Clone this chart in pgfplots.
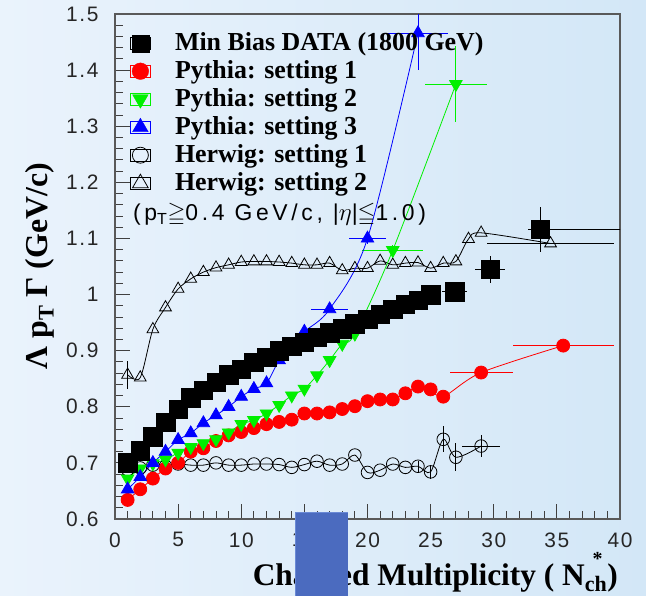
\documentclass[border=0pt]{standalone}
\usepackage{amssymb}
\usepackage{fontspec}
\setmainfont{Liberation Serif}
\newfontfamily\rootsans[LetterSpace=8]{Liberation Sans}
\newfontfamily\annfont[LetterSpace=16]{Liberation Sans}
\usepackage{pgfplots}
\pgfplotsset{compat=1.18}
\definecolor{bgleft}{HTML}{EAF3FC}
\definecolor{bgright}{HTML}{D3E7F7}
\definecolor{pyred}{HTML}{FF0000}
\definecolor{pygreen}{HTML}{00F000}
\definecolor{pyblue}{HTML}{0000FF}
\definecolor{slideblue}{HTML}{4B6BBF}
\definecolor{slideedge}{HTML}{6A8AD6}

\begin{document}
\begin{tikzpicture}
\useasboundingbox (-115bp,-77bp) rectangle (531bp,519bp);
\shade[left color=bgleft, right color=bgright] (-115bp,-77bp) rectangle (531bp,519bp);
\begin{axis}[
 at={(0,0)}, anchor=south west,
 scale only axis, width=505bp, height=505bp,
 xmin=0, xmax=40, ymin=0.6, ymax=1.5,
 xtick={0,5,...,40},
 ytick={0.6,0.7,0.8,0.9,1,1.1,1.2,1.3,1.4,1.5},
 minor x tick num=4, minor y tick num=4,
 tick align=inside, xtick pos=bottom, ytick pos=left,
 major tick length=15bp, minor tick length=7.5bp,
 axis line style={black!65, line width=1.2bp},
 every tick/.style={black!75, line width=1bp},
 tick label style={font=\rootsans\fontsize{21}{21}\selectfont, text=black!85},
 /pgf/number format/assume math mode=true,
 yticklabel style={/pgf/number format/fixed, /pgf/number format/precision=1, xshift=-13bp},
 xticklabel style={yshift=-10bp},
 legend style={draw=none, fill=none, inner sep=0pt,
   at={(axis description cs:0.0297,0.9703)}, anchor=north west,
   font=\bfseries\fontsize{26}{26}\selectfont,
   nodes={inner sep=1.5bp, text height=20bp, text depth=5bp},
   row sep=0pt, column sep=23bp},
 legend cell align=left,
 legend image code/.code={\path (-10bp,-6bp) rectangle (10bp,6bp);
   \draw[#1] plot coordinates {(0bp,0bp)};},
 error bars/error mark=none,
]
% Herwig setting 2
\addplot[black, line width=0.8bp, smooth, mark=triangle, mark size=6.8bp,
  mark options={solid, line width=0.8bp}, forget plot,
  error bars/.cd, x dir=both, x explicit, y dir=both, y explicit,
  error bar style={black, line width=0.8bp}]
 coordinates {(1,0.857) +- (0,0.025) (2,0.852) (3,0.938) (4,0.977) (5,1.010)
  (6,1.028) (7,1.040) (8,1.048) (9,1.053) (10,1.058) (11,1.059) (12,1.059)
  (13,1.058) (14,1.056) (15,1.053) (16,1.053) (17,1.056) (18,1.043) (19,1.047)
  (20,1.047) (21,1.060) (22,1.053) (23,1.056) (24,1.057) (25,1.047) (26,1.056)
  (27,1.059) (28,1.099) (29,1.110) (34.5,1.091) +- (5,0)};
% Herwig setting 1
\addplot[black, line width=0.8bp, smooth, mark=o, mark size=6.3bp,
  mark options={solid, line width=0.8bp}, forget plot,
  error bars/.cd, x dir=both, x explicit, y dir=both, y explicit,
  error bar style={black, line width=0.8bp}]
 coordinates {(1,0.688) (2,0.691) (3,0.696) (4,0.694) (5,0.698) (6,0.696)
  (7,0.696) (8,0.700) (9,0.696) (10,0.696) (11,0.698) (12,0.698) (13,0.697)
  (14,0.692) (15,0.697) (16,0.703) (17,0.696) (18,0.698) (19,0.714) (20,0.683)
  (21,0.687) (22,0.698) (23,0.692) (24,0.694) +- (0,0.01) (25,0.684) +- (0,0.012)
  (26,0.742) +- (0,0.023) (27,0.710) +- (0,0.025) (29,0.730) +- (1.5,0.02)};
% Pythia setting 1
\addplot[pyred, line width=0.8bp, smooth, mark=*, mark size=6.5bp,
  mark options={solid, fill=pyred}, forget plot,
  error bars/.cd, x dir=both, x explicit, y dir=both, y explicit,
  error bar style={pyred, line width=0.8bp}]
 coordinates {(1,0.634) (2,0.653) (3,0.672) (4,0.690) (5,0.700) (6,0.720)
  (7,0.726) (8,0.739) (9,0.749) (10,0.755) (11,0.762) (12,0.769) (13,0.773)
  (14,0.777) (15,0.788) (16,0.788) (17,0.790) (18,0.796) (19,0.801) (20,0.810)
  (21,0.813) (22,0.813) (23,0.824) (24,0.836) (25,0.831) (26,0.818)
  (29,0.861) +- (2.5,0.01) (35.5,0.909) +- (4,0.012)};
% Pythia setting 2
\addplot[pygreen, line width=0.8bp, smooth, mark=triangle*, mark size=7.2bp,
  mark options={solid, fill=pygreen, rotate=180}, forget plot,
  error bars/.cd, x dir=both, x explicit, y dir=both, y explicit,
  error bar style={pygreen, line width=0.8bp}]
 coordinates {(1,0.672) (2,0.690) (3,0.699) (4,0.706) (5,0.718) (6,0.728)
  (7,0.735) (8,0.742) (9,0.754) (10,0.769) (11,0.776) (12,0.788) (13,0.803)
  (14,0.820) (15,0.832) (16,0.856) (17,0.883) (18,0.912) (19,0.930)
  (22,1.079) +- (2.4,0.01) (27,1.375) +- (2.45,0.068)};
% Pythia setting 3
\addplot[pyblue, line width=0.8bp, smooth, mark=triangle*, mark size=7.2bp,
  mark options={solid, fill=pyblue}, forget plot,
  error bars/.cd, x dir=both, x explicit, y dir=both, y explicit,
  error bar style={pyblue, line width=0.8bp}]
 coordinates {(1,0.653) (2,0.675) (3,0.700) (4,0.720) (5,0.741) (6,0.753)
  (7,0.771) (8,0.785) (9,0.800) (10,0.818) (11,0.832) (12,0.842) (13,0.883)
  (14,0.910) (15,0.934) (17,0.974) +- (1.45,0.005) (20,1.100) +- (1.45,0.01)
  (24,1.466) +- (2.4,0.066)};
% Min Bias data
\addplot[black, only marks, mark=square*, mark size=9.2bp, forget plot,
  error bars/.cd, x dir=both, x explicit, y dir=both, y explicit,
  error bar style={black, line width=0.8bp}]
 coordinates {(1,0.700) (2,0.722) (3,0.747) (4,0.772) (5,0.796) (6,0.816)
  (7,0.830) (8,0.844) (9,0.857) (10,0.867) (11,0.879) (12,0.888) (13,0.900)
  (14,0.908) (15,0.915) (16,0.924) (17,0.932) (18,0.939) (19,0.948) (20,0.956)
  (21,0.965) (22,0.974) (23,0.983) (24,0.990) (25,1.000)
  (26.9,1.005) +- (1.0,0.005) (29.7,1.045) +- (1.2,0.024)
  (33.7,1.116) += (6.5,0.04) -= (1.0,0.04)};

\addlegendimage{only marks, black, mark=square*, mark size=8.5bp}
\addlegendentry{Min Bias DATA (1800 GeV)}
\addlegendimage{only marks, pyred, mark=*, mark size=8.3bp, mark options={fill=pyred}}
\addlegendentry{Pythia: setting 1}
\addlegendimage{only marks, pygreen, mark=triangle*, mark size=9bp, mark options={fill=pygreen, rotate=180}}
\addlegendentry{Pythia: setting 2}
\addlegendimage{only marks, pyblue, mark=triangle*, mark size=9bp, mark options={fill=pyblue}}
\addlegendentry{Pythia: setting 3}
\addlegendimage{only marks, black, mark=o, mark size=8bp, mark options={line width=0.8bp}}
\addlegendentry{Herwig: setting 1}
\addlegendimage{only marks, black, mark=triangle, mark size=9bp, mark options={line width=0.8bp}}
\addlegendentry{Herwig: setting 2}
\end{axis}
\node[anchor=west, inner sep=0pt] at (18bp,304bp)
 {\annfont\fontsize{23}{23}\selectfont (p\textsubscript{T}$\geqq$0.4 GeV/c, |$\eta$|$\leqq$1.0)};
\node[rotate=90, inner sep=0pt] at (-75bp,253bp)
 {\bfseries\fontsize{32}{32}\selectfont Λ p\textsubscript{T} Γ (GeV/c)};
\node[anchor=base east, inner sep=0pt] at (503bp,-66bp)
 {\bfseries\fontsize{31.5}{32}\selectfont Charged Multiplicity ( N\rlap{\hspace{0.25em}\raisebox{0.62em}{\fontsize{20}{20}\selectfont *}}\textsubscript{ch})};
\fill[slideblue] (180bp,-77bp) rectangle (233bp,7bp);
\draw[slideedge, line width=1bp] (180.5bp,-77bp) -- (180.5bp,6.5bp) -- (232.5bp,6.5bp);
\end{tikzpicture}
\end{document}
